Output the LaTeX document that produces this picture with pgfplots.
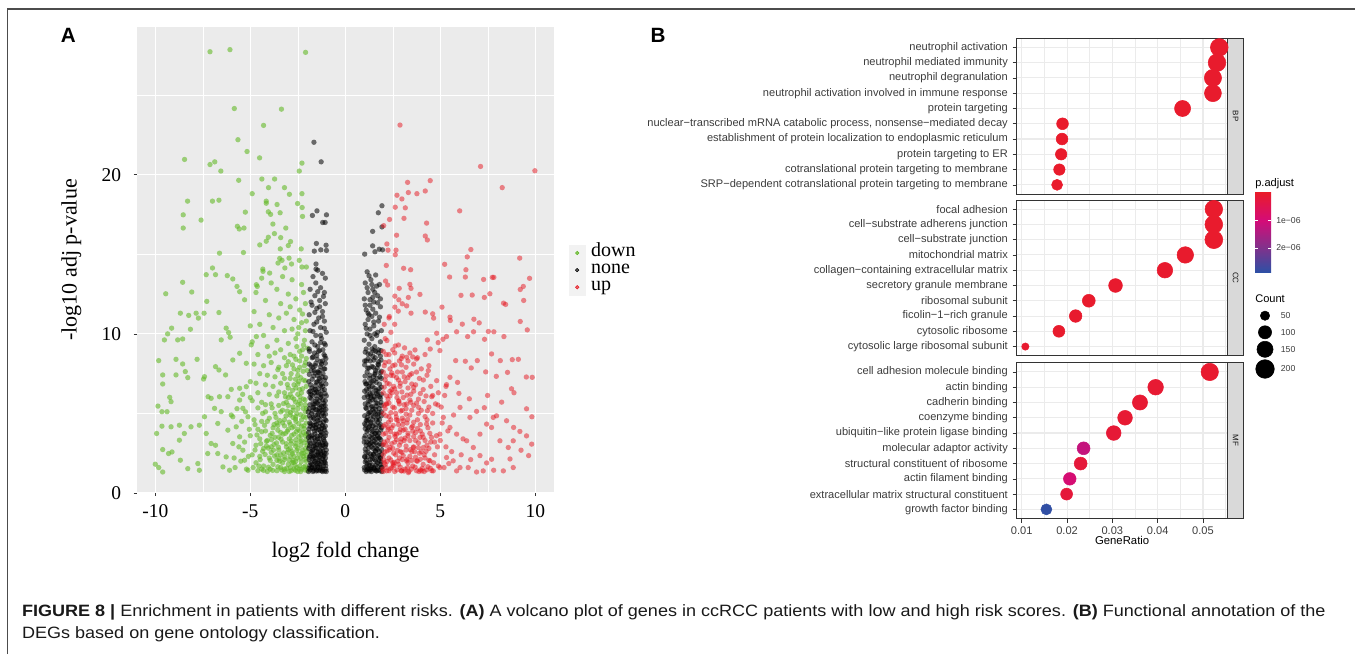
\documentclass[border=0pt]{standalone}
\usepackage{fontspec}
\setmainfont{Liberation Sans}
\newfontfamily\timesfont{Liberation Serif}
\newfontfamily\capfont[FakeStretch=1.1]{Liberation Sans}
\usepackage{pgfplots}
\pgfplotsset{compat=1.18}
\usepackage{pgfplotstable}

\definecolor{vgreen}{RGB}{100,185,40}
\definecolor{vred}{RGB}{230,20,30}
\definecolor{panelgray}{RGB}{235,235,235}
\definecolor{keygray}{RGB}{242,242,242}
\definecolor{grid92}{RGB}{235,235,235}
\definecolor{strip85}{RGB}{217,217,217}
\definecolor{gray20}{RGB}{51,51,51}
\definecolor{gray30}{RGB}{60,60,60}
\definecolor{cbred}{RGB}{233,27,43}
\definecolor{cbmag}{RGB}{212,12,120}
\definecolor{cbpur}{RGB}{128,50,140}
\definecolor{cbblue}{RGB}{45,80,165}
\pgfdeclareverticalshading{padj}{100bp}{color(0bp)=(cbblue); color(25bp)=(cbblue); color(40.35bp)=(cbpur); color(57.5bp)=(cbmag); color(75bp)=(cbred); color(100bp)=(cbred)}

\pgfplotstableread{
idx GR count p
0 0.0536 181 0.2
1 0.0531 180 0.3
2 0.0522 172 0.3
3 0.0522 166 0.3
4 0.0455 150 0.2
5 0.0190 80 0.1
6 0.0189 80 0.1
7 0.0187 76 0.1
8 0.0183 75 0.1
9 0.0178 70 0.1
}\tabBP
\pgfplotstableread{
idx GR count p
0 0.0524 180 0.2
1 0.0524 182 0.2
2 0.0524 185 0.2
3 0.0461 158 0.3
4 0.0416 141 0.4
5 0.0307 110 0.4
6 0.0248 96 0.3
7 0.0219 92 0.4
8 0.0182 82 0.3
9 0.0108 31 0.5
}\tabCC
\pgfplotstableread{
idx GR count p
0 0.0515 175 0.5
1 0.03955 141 1
2 0.0361 133 1
3 0.0328 125 1
4 0.0303 125 1.5
5 0.02365 96 12
6 0.0230 96 2
7 0.0206 92 9.5
8 0.0199 82 2
9 0.01544 70 28.5
}\tabMF
\pgfplotstableread{
y count
315.7 50
332.3 100
349.3 150
369.0 200
}\tabCount

\pgfplotsset{
 gopanel/.style={
  anchor=south west, scale only axis, width=158.4pt, height=116.8pt,
  xmin=0.00885, xmax=0.05547, ymin=-0.6, ymax=9.6, y dir=reverse,
  scaled x ticks=false,
  xtick={0.01,0.02,0.03,0.04,0.05}, minor xtick={0.015,0.025,0.035,0.045,0.055},
  ytick={0,1,2,3,4,5,6,7,8,9},
  xmajorgrids, xminorgrids, ymajorgrids,
  major grid style={grid92, line width=0.8pt},
  minor grid style={grid92, line width=0.4pt},
  axis line style={gray20, line width=0.6pt},
  tick align=outside, xtick pos=lower, ytick pos=left,
  major tick length=3pt, minor tick length=0pt,
  tick style={gray20, line width=0.5pt},
  yticklabel style={font=\fontsize{8.3}{9}\selectfont, text=gray30},
  xticklabel style={font=\fontsize{8.3}{9}\selectfont, text=gray30},
  clip=false,
  colormap={padjmap}{rgb255(0cm)=(233,27,43); rgb255(3.5cm)=(212,12,120); rgb255(6.93cm)=(128,50,140); rgb255(10cm)=(45,80,165)},
  point meta min=0, point meta max=28.9,
 },
 godots/.style={scatter, only marks, mark=*, point meta=explicit,
  scatter/use mapped color={draw=mapped color, fill=mapped color},
  visualization depends on={0.493*sqrt(\thisrow{count}) \as \msz},
  scatter/@pre marker code/.append style={/tikz/mark size=\msz pt}},
}

\begin{document}
\begin{tikzpicture}
\useasboundingbox (0,0) rectangle (1016.25pt,490.5pt);
\draw[line width=0.9pt, black!70] (5.5pt,0) -- (5.5pt,483.75pt) -- (1016.25pt,483.75pt);

\node[font=\bfseries\fontsize{15.5}{15.5}\selectfont] at (51.2pt,464.2pt) {A};
\node[font=\bfseries\fontsize{15.5}{15.5}\selectfont] at (493.5pt,464.2pt) {B};

% ---------------- Panel A: volcano ----------------
\begin{axis}[
 at={(102.5pt,120.75pt)}, anchor=south west, scale only axis,
 width=313.2pt, height=349.7pt,
 xmin=-10.98, xmax=11.0, ymin=0, ymax=29.3,
 axis background/.style={fill=panelgray},
 axis line style={draw=none},
 xtick={-10,-5,0,5,10}, xticklabels={-10,-5,0,5,10},
 ytick={0,10,20}, yticklabels={0,10,20},
 minor xtick={-7.5,-2.5,2.5,7.5}, minor ytick={5,15,25},
 xmajorgrids, ymajorgrids, xminorgrids, yminorgrids,
 major grid style={white, line width=0.8pt},
 minor grid style={white, line width=0.4pt},
 tick align=outside, xtick pos=lower, ytick pos=left,
 major tick length=2.2pt, minor tick length=0pt,
 tick style={gray20, line width=0.5pt},
 ticklabel style={font=\timesfont\fontsize{14.6}{14.6}\selectfont, text=black},
 xticklabel style={yshift=-3pt},
 yticklabel style={xshift=-6pt},
 xlabel={log2 fold change}, ylabel={-log10 adj p-value},
 label style={font=\timesfont\fontsize{16.5}{16.5}\selectfont},
 xlabel style={at={([yshift=-44.5pt]axis description cs:0.5,0)}, anchor=center},
 ylabel style={at={([xshift=-49pt]axis description cs:0,0.5)}, anchor=center},
 legend style={at={(axis description cs:1,0.478)}, anchor=west, xshift=11pt,
   draw=none, fill=none, inner sep=0pt, outer sep=0pt, row sep=0pt,
   font=\timesfont\fontsize{15}{15}\selectfont,
   nodes={inner sep=0pt, text height=8.5pt, text depth=3.9pt},
   /tikz/every odd column/.append style={column sep=4.2pt}},
 legend cell align=left,
]
\addplot[only marks, mark=*, mark size=2.0pt, color=vgreen, mark options={draw opacity=0, fill opacity=0.6},
 legend image code/.code={\fill[keygray] (0pt,-6.2pt) rectangle (12pt,6.2pt); \fill[fill opacity=0.7] (6pt,0pt) circle (1.3pt);}]
coordinates {
(-7.12,27.73)(-6.07,27.86)(-2.09,27.69)(-5.84,24.16)(-3.36,24.12)(-4.30,23.10)(-5.65,22.2)(-5.17,21.46)(-4.51,21.06)(-8.46,20.96)
(-7.12,20.64)(-6.87,20.81)(-6.55,20.23)(-2.28,20.73)(-2.42,20.23)(-5.61,19.65)(-4.39,19.73)(-3.72,19.73)(-4.04,19.19)(-3.20,19.19)
(-4.90,18.81)(-2.94,18.77)(-2.28,18.81)(-8.30,18.34)(-6.99,18.34)(-6.65,18.40)(-4.16,18.34)(-4.16,18.21)(-3.59,18.13)(-2.51,18.19)
(-2.27,17.94)(-8.53,17.48)(-7.59,17.15)(-8.53,16.65)(-5.26,17.65)(-4.05,17.67)(-3.93,17.51)(-3.43,17.61)(-2.25,17.38)(-3.81,16.90)
(-3.13,16.65)(-5.68,16.76)(-5.58,16.59)(-5.33,16.65)(-3.73,16.30)(-4.05,16.07)(-3.40,16.05)(-4.16,15.82)(-2.88,15.80)(-4.50,15.59)
(-3.00,15.55)(-6.62,15.07)(-5.36,15.11)(-3.42,15.34)(-2.32,15.34)(-3.45,14.74)(-2.96,14.76)(-2.42,14.62)(-3.33,14.62)(-2.83,14.39)
(-6.99,14.14)(-2.28,14.20)(-2.05,14.20)(-3.18,14.14)(-4.34,14.07)
(-8.56,13.24)(-9.45,12.52)(-8.08,12.63)(-7.29,12.04)(-7.32,13.72)(-6.83,13.72)(-6.21,13.66)(-5.92,13.45)(-5.70,12.98)(-5.56,12.65)
(-5.30,12.14)(-4.68,13.09)(-4.63,12.98)(-4.33,13.93)(-3.98,13.82)(-3.54,14.45)(-8.68,11.30)(-8.24,11.16)(-7.85,11.30)(-7.43,11.30)
(-7.73,10.99)(-6.65,11.34)(-9.14,10.36)(-9.35,10.0)(-9.52,9.62)(-8.82,9.62)(-8.56,9.68)(-8.15,10.29)(-6.27,10.36)(-6.14,10.08)
(-6.06,9.79)(-6.53,9.62)(-9.82,8.32)(-9.61,7.42)(-9.61,6.85)(-9.86,5.46)(-9.65,5.11)(-9.24,6.01)(-9.17,5.74)(-8.91,8.40)
(-8.56,8.11)(-8.42,7.63)(-8.29,7.25)(-8.91,7.42)(-7.80,8.40)(-7.41,7.31)(-7.46,7.16)(-7.06,5.95)(-6.62,6.05)(-7.22,6.05)
(-6.83,7.94)(-6.65,7.73)(-6.30,7.42)(-6.00,6.51)(-5.56,6.58)(-5.21,6.68)(-9.38,5.11)(-9.65,4.20)(-9.93,3.74)(-9.17,4.16)
(-8.73,4.26)(-8.47,3.74)(-8.12,4.16)(-7.68,4.26)(-7.41,4.79)(-8.73,3.32)(-9.61,2.73)(-9.30,2.48)(-9.12,2.58)(-10.0,1.81)
(-9.82,1.60)(-9.61,1.32)(-8.68,2.06)(-8.29,1.53)(-7.76,1.85)(-7.68,1.43)(-7.24,2.48)(-7.06,3.11)(-6.83,3.00)(-6.71,2.48)
(-6.44,1.64)(-6.09,1.43)(-6.27,2.27)(-6.18,3.95)(-5.74,4.16)(-5.92,4.79)(-6.53,5.11)(-6.88,5.32)(-5.39,5.32)(-5.56,3.53)
(-5.39,2.69)(-5.30,2.06)(-5.12,1.43)(-7.32,3.74)(-5.92,3.11)(-6.71,4.37)(-5.12,4.79)(-5.56,5.84)(-6.18,6.05)(-5.92,8.36)
(-5.21,8.15)(-5.56,8.78)(-4.95,9.31)(-4.68,9.83)
(-4.4,13.5)(-3.9,13.2)(-3.3,13.6)(-2.8,13.4)(-2.3,13.1)(-4.7,12.6)(-3.6,12.8)(-3.0,12.5)(-2.6,12.2)(-2.2,12.6)
(-4.2,12.1)(-3.4,11.9)(-2.9,11.7)(-2.4,11.5)(-2.1,11.9)(-4.8,11.4)(-4.0,11.2)(-3.5,11.0)(-3.1,11.3)(-2.7,10.9)
(-2.3,10.7)(-5.0,10.5)(-4.5,10.6)(-3.8,10.4)(-3.2,10.2)(-2.8,10.3)(-2.5,10.0)(-2.1,10.2)(-4.3,9.9)(-3.6,9.6)
(-3.0,9.4)(-2.6,9.7)(-2.2,9.3)(-4.9,9.5)(-4.1,9.2)(-3.4,9.0)(-2.4,8.9)(-2.0,9.1)
(-4.6,8.7)(-4.0,8.6)(-3.7,8.8)(-3.2,8.5)(-2.9,8.7)(-2.6,8.4)(-2.3,8.6)(-2.1,8.2)(-4.8,8.1)(-4.3,8.0)
(-3.9,8.2)(-3.5,7.9)(-3.1,8.0)(-2.7,7.8)(-2.4,7.9)(-2.0,7.7)(-4.5,7.5)(-4.1,7.4)(-3.7,7.3)(-3.3,7.5)
(-2.9,7.2)(-2.5,7.4)(-2.2,7.1)(-5.0,7.0)(-4.7,6.9)(-4.2,6.8)(-3.8,6.7)(-3.4,6.9)(-3.0,6.6)(-2.7,6.8)
(-2.4,6.5)(-2.05,6.7)(-4.6,6.3)(-4.0,6.2)(-3.6,6.1)(-3.2,6.3)(-2.8,6.0)(-2.5,6.2)(-2.2,5.9)(-4.9,5.8)
(-4.4,5.7)(-3.9,5.6)(-3.5,5.5)(-3.1,5.7)(-2.75,5.4)(-2.35,5.6)(-2.05,5.3)(-4.2,5.1)(-3.7,5.0)(-3.3,5.2)
(-2.9,4.9)(-2.55,5.0)(-2.2,4.8)
(-4.8,4.6)(-4.4,4.5)(-4.0,4.7)(-3.6,4.4)(-3.2,4.6)(-2.9,4.3)(-2.6,4.5)(-2.3,4.2)(-2.05,4.4)(-4.6,4.0)
(-4.2,3.9)(-3.8,4.1)(-3.4,3.8)(-3.0,4.0)(-2.7,3.7)(-2.4,3.9)(-2.1,3.6)(-5.0,3.6)(-4.5,3.4)(-4.1,3.3)
(-3.7,3.5)(-3.3,3.2)(-2.95,3.4)(-2.6,3.1)(-2.3,3.3)(-2.0,3.0)(-4.7,3.0)(-4.3,2.8)(-3.9,2.9)(-3.5,2.7)
(-3.1,2.9)(-2.8,2.6)(-2.5,2.8)(-2.2,2.5)(-4.9,2.4)(-4.5,2.3)(-4.0,2.2)(-3.6,2.4)(-3.2,2.1)(-2.9,2.3)
(-2.6,2.0)(-2.35,2.2)(-2.05,2.0)(-4.7,1.9)(-4.3,1.7)(-3.8,1.8)(-3.4,1.6)(-3.0,1.8)(-2.7,1.5)(-2.4,1.7)
(-2.15,1.45)(-4.6,1.4)(-4.1,1.35)(-3.6,1.4)(-3.2,1.35)(-2.85,1.4)(-2.5,1.35)(-2.0,1.4)(-5.2,1.5)(-5.5,2.0)
(-5.8,1.6)(-4.4,1.5)(-3.95,1.5)(-3.45,2.0)(-2.75,2.05)(-2.25,2.7)(-3.75,3.05)(-2.45,3.55)(-3.15,3.75)(-2.15,4.05)
(-3.55,4.25)(-2.75,4.75)(-4.25,4.25)(-2.5,5.3)(-3.85,5.35)(-2.1,5.55)(-3.0,6.0)(-2.45,7.0)(-3.55,7.75)(-2.15,8.0)
(-2.1,1.7)(-2.3,1.5)(-2.55,1.6)(-2.8,1.9)(-2.2,2.3)(-2.45,2.45)(-2.7,2.3)(-2.9,2.8)(-2.1,2.8)(-2.35,3.0)
(-2.6,3.35)(-2.85,3.1)(-2.2,3.8)(-2.5,4.0)(-2.8,4.1)(-2.3,4.6)(-2.6,4.8)(-2.1,5.1)(-2.4,5.8)(-2.7,5.9)
(-2.3,6.3)(-2.6,6.6)(-3.05,5.15)(-3.3,4.4)(-3.5,3.5)(-3.05,2.55)(-3.3,1.9)(-3.6,2.05)(-3.9,2.55)(-4.15,2.95)
(-3.85,3.75)(-3.4,2.4)(-3.2,1.5)(-2.95,1.35)(-2.35,1.35)(-2.65,1.75)(-2.05,2.35)(-2.05,3.35)
(-2.02,1.55)(-2.18,1.62)(-2.42,1.5)(-2.63,1.42)(-2.88,1.6)(-3.08,1.55)(-3.35,1.45)(-3.55,1.65)(-3.82,1.42)(-4.05,1.62)
(-4.3,1.42)(-4.55,1.7)(-2.12,2.12)(-2.32,1.95)(-2.52,2.18)(-2.72,1.92)(-2.95,2.08)(-3.18,2.25)(-3.48,2.15)(-3.72,2.32)
(-3.95,2.05)(-4.22,2.42)(-4.48,2.1)(-2.02,2.62)(-2.28,2.5)(-2.55,2.68)(-2.78,2.48)(-3.0,2.72)(-3.25,2.52)(-3.52,2.88)
(-3.78,2.7)(-4.05,2.82)(-4.35,2.62)(-2.15,3.15)(-2.38,3.25)(-2.62,2.95)(-2.85,3.28)(-3.1,3.1)(-3.38,3.38)(-3.62,3.15)
(-3.88,3.35)(-4.15,3.25)(-2.05,3.72)(-2.32,3.62)(-2.58,3.85)(-2.82,3.62)(-3.05,3.88)(-3.28,3.7)(-3.55,3.95)(-3.95,3.62)
(-2.18,4.22)(-2.45,4.35)(-2.7,4.18)(-2.95,4.45)(-3.2,4.22)(-3.45,4.55)(-3.75,4.3)(-4.1,4.5)(-2.08,4.75)(-2.35,4.92)
(-2.62,4.65)(-2.88,5.05)(-3.12,4.85)(-3.4,5.1)(-3.65,4.75)(-2.22,5.32)(-2.48,5.55)(-2.75,5.2)(-3.0,5.5)(-3.25,5.62)
(-2.12,5.85)(-2.38,6.05)(-2.62,5.72)(-2.9,6.2)(-3.15,6.05)(-3.5,6.35)(-2.25,6.55)(-2.5,6.85)(-2.78,6.45)(-3.05,6.82)
(-2.1,7.05)(-2.35,7.25)(-2.62,7.15)(-2.85,7.5)(-3.2,7.2)(-2.22,7.65)(-2.5,7.7)(-2.78,8.05)(-2.05,8.45)(-2.4,8.3)
(-2.7,8.6)(-3.0,8.25)(-2.25,9.0)(-2.55,9.2)(-2.15,9.6)(-2.45,10.4)(-2.05,10.8)(-2.25,11.25)
(-4.45,3.1)(-4.65,3.65)(-4.4,3.85)(-4.75,4.3)(-4.35,5.0)(-4.6,5.35)(-4.2,5.55)(-4.75,2.7)(-4.85,1.6)(-5.1,2.3)
(-5.3,3.2)(-5.05,4.0)(-5.25,5.1)(-5.45,4.5)(-5.0,6.0)(-5.4,6.2)(-5.6,2.9)(-5.85,2.2)(-5.7,5.3)(-6.0,4.9)
};
\addplot[only marks, mark=*, mark size=2.0pt, color=black, mark options={draw opacity=0, fill opacity=0.55},
 legend image code/.code={\fill[keygray] (0pt,-6.2pt) rectangle (12pt,6.2pt); \fill[fill opacity=0.6] (6pt,0pt) circle (1.3pt);}]
coordinates {
(-1.65,22.04)(-1.27,20.81)(-1.49,17.73)(-1.73,17.44)(-0.99,17.48)(-1.19,17.0)(-1.06,17.0)(-1.52,15.68)(-1.01,15.57)(-1.63,15.20)
(-1.29,15.28)(-0.99,15.24)(-1.54,14.39)(-1.54,14.07)
(-1.45,14.0)(-1.2,13.8)(-1.7,13.6)(-1.05,13.5)(-1.55,13.2)(-1.3,12.9)(-1.85,12.8)(-1.1,12.6)(-1.6,12.4)(-1.35,12.1)
(-1.05,11.9)(-1.75,11.8)(-1.5,11.6)(-1.2,11.4)(-1.9,11.2)(-1.4,11.0)(-1.1,10.8)(-1.65,10.6)(-1.3,10.4)(-1.85,10.2)
(-1.0,10.1)(-1.55,9.9)(-1.25,9.7)(-1.75,9.5)(-1.1,9.4)(-1.45,9.2)
(-1.3,9.9)(-1.7,10.15)(-1.1,10.35)(-1.5,10.75)(-1.2,11.1)(-1.6,11.35)(-1.35,11.7)(-1.8,12.0)(-1.15,12.35)(-1.45,12.65)
(-1.88,8.9)(-1.62,8.8)(-1.35,8.95)(-1.12,8.7)(-1.74,8.5)(-1.48,8.4)(-1.2,8.3)(-1.02,8.45)(-1.9,8.1)(-1.58,8.0)
(-1.3,7.95)(-1.08,7.8)(-1.8,7.7)(-1.44,7.6)(-1.17,7.5)(-1.66,7.35)(-1.36,7.2)(-1.04,7.25)(-1.92,7.0)(-1.53,6.95)
(-1.25,6.85)(-1.76,6.6)(-1.41,6.55)(-1.1,6.5)(-1.63,6.3)(-1.29,6.2)(-1.0,6.1)(-1.86,6.0)(-1.5,5.9)(-1.18,5.85)
(-1.7,5.6)(-1.38,5.55)(-1.06,5.5)(-1.9,5.3)(-1.56,5.25)(-1.24,5.2)(-1.78,5.0)(-1.45,4.9)(-1.13,4.85)(-1.65,4.65)
(-1.32,4.6)(-1.01,4.55)(-1.87,4.4)(-1.52,4.3)(-1.2,4.25)(-1.72,4.05)(-1.4,4.0)(-1.08,3.95)(-1.93,3.8)(-1.6,3.7)
(-1.27,3.65)(-1.76,3.45)(-1.46,3.4)(-1.14,3.35)(-1.02,3.1)(-1.66,3.15)(-1.34,3.05)(-1.88,2.95)(-1.55,2.85)(-1.22,2.8)
(-1.79,2.6)(-1.43,2.55)(-1.1,2.5)(-1.69,2.3)(-1.37,2.25)(-1.04,2.2)(-1.9,2.1)(-1.58,2.0)(-1.26,1.95)(-1.76,1.8)
(-1.47,1.75)(-1.15,1.7)(-1.02,1.5)(-1.63,1.55)(-1.33,1.5)(-1.85,1.45)(-1.52,1.38)(-1.2,1.35)(-1.7,1.35)(-1.4,1.4)
(-1.08,1.38)(-1.93,1.35)
(-1.5,8.65)(-1.25,8.1)(-1.7,7.9)(-1.1,7.1)(-1.47,7.0)(-1.85,6.4)(-1.22,6.45)(-1.58,5.75)(-1.05,5.8)(-1.4,5.05)
(-1.82,4.7)(-1.15,4.45)(-1.55,4.1)(-1.3,3.85)(-1.85,3.55)(-1.05,3.6)(-1.62,3.45)(-1.4,3.2)(-1.18,3.0)(-1.7,2.75)
(-1.32,2.65)(-1.0,2.7)(-1.5,2.4)(-1.85,2.35)(-1.2,2.15)(-1.62,1.95)(-1.38,1.85)(-1.05,1.9)(-1.8,1.6)(-1.27,1.6)
(-1.58,1.65)(-1.45,2.1)(-1.12,2.35)(-1.72,2.15)(-1.3,2.95)(-1.6,3.0)(-1.9,3.25)(-1.25,4.05)(-1.45,4.55)(-1.7,4.25)
(-1.05,4.2)(-1.35,5.35)(-1.65,5.4)(-1.12,5.2)(-1.5,6.35)(-1.3,6.75)(-1.75,6.15)(-1.6,7.55)(-1.35,7.7)(-1.05,8.15)
(-1.91,1.55)(-1.67,1.42)(-1.44,1.6)(-1.19,1.48)(-1.03,1.72)(-1.81,1.9)(-1.55,1.85)(-1.32,1.78)(-1.09,2.02)(-1.88,2.25)
(-1.64,2.22)(-1.41,2.38)(-1.17,2.28)(-1.01,2.48)(-1.78,2.48)(-1.53,2.62)(-1.28,2.52)(-1.06,2.9)(-1.92,2.8)(-1.68,2.92)
(-1.45,2.78)(-1.22,3.15)(-1.84,3.12)(-1.58,3.28)(-1.35,3.4)(-1.1,3.25)(-1.75,3.62)(-1.49,3.58)(-1.24,3.8)(-1.02,3.78)
(-1.91,4.02)(-1.63,3.9)(-1.37,4.18)(-1.13,4.1)(-1.8,4.35)(-1.55,4.48)(-1.3,4.38)(-1.06,4.62)(-1.89,4.85)(-1.68,4.75)
(-1.42,4.75)(-1.18,5.02)(-1.73,5.15)(-1.48,5.22)(-1.26,5.45)(-1.02,5.25)(-1.86,5.55)(-1.61,5.6)(-1.37,5.8)(-1.14,5.65)
(-1.78,5.9)(-1.53,6.1)(-1.29,6.0)(-1.06,6.25)(-1.91,6.35)(-1.66,6.5)(-1.42,6.3)(-1.19,6.7)(-1.82,6.8)(-1.57,6.75)
(-1.34,7.05)(-1.02,6.85)(-1.74,7.15)(-1.45,7.35)(-1.22,7.3)(-1.89,7.45)(-1.63,7.7)(-1.38,7.55)(-1.12,7.8)(-1.8,8.0)
(-1.55,8.15)(-1.3,8.25)(-1.07,8.6)(-1.7,8.55)(-1.42,8.9)(-1.18,9.0)(-1.9,9.05)(-1.6,9.3)(-1.3,9.45)(-1.05,9.3)
(-1.5,1.45)(-1.25,1.4)(-1.75,1.6)(-1.0,1.35)(-1.86,1.75)(-1.36,2.05)(-1.12,1.92)(-1.6,2.35)(-1.27,2.4)(-1.72,2.65)
(-1.48,3.05)(-1.17,2.62)(-1.03,3.02)(-1.94,3.5)(-1.32,3.6)(-1.6,4.25)(-1.14,3.5)(-1.5,3.95)(-1.85,4.2)(-1.25,4.85)
(-1.58,4.9)(-1.04,4.95)(-1.95,5.1)(-1.35,5.15)(-1.7,5.35)(-1.15,5.45)(-1.48,5.65)(-1.82,6.2)(-1.25,6.1)(-1.57,6.5)
(1.93,18.05)(1.74,17.61)(1.44,16.44)(1.93,16.72)(1.44,15.53)(1.56,15.16)(1.79,15.32)(1.96,15.28)(1.02,15.01)
(1.15,13.9)(1.6,13.7)(1.35,13.4)(1.05,13.2)(1.8,13.1)(1.45,12.8)(1.2,12.6)(1.7,12.4)(1.0,12.2)(1.5,12.0)
(1.3,11.8)(1.85,11.7)(1.1,11.5)(1.6,11.3)(1.4,11.1)(1.2,10.9)(1.75,10.8)(1.05,10.6)(1.5,10.5)(1.3,10.3)
(1.9,10.2)(1.15,10.0)(1.65,9.9)(1.4,9.7)(1.0,9.6)(1.85,9.5)(1.25,9.35)(1.55,9.2)(1.1,9.05)(1.75,9.0)
(1.45,12.3)(1.65,13.0)(1.25,11.2)(1.55,10.0)
(1.3,9.9)(1.7,10.1)(1.1,10.35)(1.5,10.75)(1.8,11.05)(1.2,11.3)(1.45,11.55)(1.05,11.8)(1.7,11.95)(1.3,12.15)
(1.55,12.6)(1.15,12.9)(1.85,12.2)(1.4,13.1)(1.25,13.65)
(1.05,8.85)(1.33,8.75)(1.6,8.9)(1.85,8.6)(1.2,8.45)(1.5,8.35)(1.76,8.25)(1.02,8.05)(1.4,7.95)(1.68,7.85)
(1.9,7.65)(1.15,7.6)(1.55,7.45)(1.82,7.3)(1.28,7.2)(1.04,7.0)(1.63,6.95)(1.42,6.7)(1.9,6.65)(1.12,6.5)
(1.72,6.4)(1.3,6.25)(1.52,6.05)(1.0,6.0)(1.85,5.95)(1.22,5.8)(1.62,5.65)(1.42,5.45)(1.08,5.35)(1.78,5.3)
(1.32,5.1)(1.58,4.95)(1.9,4.85)(1.15,4.75)(1.45,4.6)(1.72,4.45)(1.02,4.35)(1.28,4.2)(1.6,4.1)(1.87,3.95)
(1.14,3.85)(1.4,3.7)(1.7,3.6)(1.0,3.45)(1.25,3.35)(1.52,3.25)(1.82,3.1)(1.1,3.0)(1.38,2.9)(1.64,2.8)
(1.92,2.7)(1.2,2.55)(1.48,2.45)(1.75,2.35)(1.03,2.25)(1.32,2.1)(1.6,2.0)(1.88,1.95)(1.15,1.85)(1.42,1.75)
(1.7,1.65)(1.0,1.6)(1.27,1.5)(1.55,1.45)(1.82,1.4)(1.1,1.35)(1.38,1.35)(1.65,1.38)(1.92,1.35)
(1.45,8.6)(1.75,8.05)(1.25,7.85)(1.9,7.2)(1.5,7.05)(1.08,6.85)(1.78,6.55)(1.35,6.0)(1.9,5.5)(1.6,5.25)
(1.2,5.0)(1.85,4.3)(1.35,4.45)(1.05,4.05)(1.55,3.75)(1.8,3.45)(1.3,3.1)(1.05,2.75)(1.6,2.6)(1.85,2.2)
(1.4,2.3)(1.1,2.05)(1.7,1.9)(1.25,1.75)(1.5,1.6)(1.9,1.6)(1.2,1.55)(1.62,3.4)(1.4,4.0)(1.15,4.55)
(1.7,4.95)(1.45,5.85)(1.15,6.2)(1.65,6.25)(1.3,6.9)(1.6,7.7)(1.1,8.3)(1.88,8.95)(1.4,9.05)
(1.02,1.45)(1.26,1.38)(1.51,1.52)(1.74,1.45)(1.93,1.62)(1.13,1.68)(1.37,1.62)(1.61,1.75)(1.85,1.8)(1.05,1.95)
(1.3,1.9)(1.55,2.1)(1.79,2.05)(1.18,2.28)(1.43,2.15)(1.68,2.3)(1.91,2.42)(1.08,2.55)(1.33,2.45)(1.57,2.65)
(1.8,2.6)(1.23,2.82)(1.47,2.8)(1.72,3.0)(1.93,3.0)(1.13,3.2)(1.38,3.18)(1.62,3.15)(1.87,3.35)(1.05,3.6)
(1.28,3.55)(1.52,3.5)(1.77,3.75)(1.18,3.95)(1.43,3.88)(1.67,3.9)(1.91,4.1)(1.08,4.25)(1.33,4.35)(1.58,4.3)
(1.8,4.6)(1.22,4.6)(1.49,4.8)(1.73,4.75)(1.02,4.85)(1.27,5.05)(1.52,5.1)(1.78,5.05)(1.12,5.3)(1.38,5.4)
(1.64,5.45)(1.88,5.7)(1.05,5.6)(1.3,5.75)(1.57,5.9)(1.8,6.05)(1.19,6.05)(1.43,6.3)(1.7,6.15)(1.02,6.4)
(1.26,6.55)(1.53,6.6)(1.8,6.85)(1.12,6.85)(1.4,7.0)(1.67,7.2)(1.04,7.35)(1.29,7.4)(1.58,7.55)(1.85,7.55)
(1.18,7.85)(1.47,7.9)(1.72,8.1)(1.02,8.3)(1.32,8.3)(1.58,8.5)(1.88,8.35)(1.2,8.75)(1.5,8.95)(1.75,8.8)
(1.35,1.48)(1.62,1.4)(1.15,1.45)(1.85,2.2)(1.48,2.4)(1.02,2.3)(1.7,2.75)(1.25,3.05)(1.5,3.05)(1.0,3.2)
(1.75,3.45)(1.4,3.45)(1.6,3.75)(1.22,4.1)(1.8,4.2)(1.45,4.2)(1.1,4.55)(1.65,4.6)(1.35,4.85)(1.9,5.1)
(1.45,5.25)(1.2,5.55)(1.7,5.65)(1.35,6.1)(1.62,6.45)(1.9,6.2)(1.25,6.7)(1.48,7.3)
};
\addplot[only marks, mark=*, mark size=2.0pt, color=vred, mark options={draw opacity=0, fill opacity=0.5},
 legend image code/.code={\fill[keygray] (0pt,-6.2pt) rectangle (12pt,6.2pt); \fill[fill opacity=0.6] (6pt,0pt) circle (1.3pt);}]
coordinates {
(2.88,23.12)(7.12,20.52)(9.98,20.25)(4.47,19.63)(3.28,19.52)(8.26,19.19)(3.32,18.88)(3.77,18.81)(4.21,18.98)(2.72,18.71)
(2.98,18.48)(2.63,17.96)(3.16,17.92)(6.02,17.73)(2.33,17.19)(3.09,17.26)(4.28,16.96)(2.02,16.80)(2.70,16.20)(4.21,16.15)
(4.32,15.90)(2.19,15.65)(2.25,15.26)(2.67,15.26)(2.63,14.97)(6.61,15.30)(6.42,14.84)(9.18,14.76)(2.16,14.30)(3.07,14.12)
(3.44,14.03)(5.23,14.37)(6.35,14.03)
(7.74,13.55)(7.82,13.55)(7.28,13.42)(9.70,13.49)(9.37,12.98)(9.21,12.79)(9.58,10.25)(9.39,12.10)
(2.12,13.32)(2.23,13.07)(2.84,12.86)(3.40,13.11)(3.46,12.86)(3.93,12.48)(5.49,13.57)(6.32,13.57)(6.09,12.42)(6.68,12.44)
(7.61,12.52)(7.32,12.29)(8.33,11.93)(9.21,10.78)(8.44,11.85)(2.61,12.37)(2.82,12.14)(3.32,12.29)(3.00,11.89)(3.23,11.76)
(2.61,11.68)(2.32,11.09)(2.79,11.43)(3.46,11.30)(4.21,11.37)(4.60,11.26)(4.65,10.99)(5.09,11.68)(5.51,11.05)(5.53,10.84)
(6.16,10.61)(6.77,10.92)(7.05,10.69)(7.53,10.15)(7.82,10.13)(8.35,9.83)(8.79,8.38)(9.11,8.40)(5.86,10.13)(6.44,9.83)
(6.75,10.13)(7.33,9.66)
(2.19,9.58)(2.63,9.24)(3.12,9.12)(3.67,8.99)(4.32,9.62)(4.81,10.04)(4.89,9.45)(5.14,9.66)(5.33,9.83)(4.47,9.05)
(4.98,8.95)(5.81,8.32)(6.32,8.28)(6.63,7.86)(6.95,8.32)(7.39,7.61)(7.95,7.33)(8.54,7.58)(9.53,7.29)(9.84,7.27)
(7.70,8.74)(8.16,8.32)(8.75,6.55)(8.88,6.30)(9.54,5.29)(9.82,4.79)(8.23,5.71)(7.49,6.13)(7.32,5.36)(6.91,5.13)
(6.53,5.92)(5.91,6.95)(5.98,6.26)(5.33,6.81)(5.23,6.13)(4.88,5.53)(4.60,6.13)(4.11,7.10)(3.60,6.64)(3.40,7.42)
(2.96,8.05)(2.53,7.37)(2.35,6.39)(2.81,5.80)(3.23,5.59)(3.86,5.38)(4.32,5.17)(2.18,5.59)(4.81,7.06)(4.37,7.69)
(3.75,8.42)(3.23,8.53)(5.51,7.27)(6.04,5.38)(6.56,4.75)(7.79,4.75)(7.44,4.33)(7.96,4.85)(8.49,4.54)(8.86,4.12)
(9.19,3.87)(9.54,3.59)(9.81,3.07)(9.65,2.35)(9.25,2.69)(8.67,2.14)(8.32,1.39)(7.81,1.43)(7.44,1.89)(7.70,2.12)
(7.09,2.35)(6.74,2.86)(6.39,3.28)(5.86,3.70)(5.51,4.12)(5.16,4.75)(4.98,3.70)(5.33,2.23)(5.68,2.02)(6.04,1.60)
(6.91,1.32)(6.47,1.60)(4.98,1.60)(4.63,1.39)(4.46,2.02)(4.11,2.86)(3.93,3.49)(3.58,2.86)(3.23,2.02)(2.96,1.39)
(2.53,1.81)(2.35,2.86)(2.70,3.70)(2.26,4.12)(3.05,4.54)(3.49,4.12)(4.28,4.33)(4.54,3.49)(3.75,2.02)(4.02,1.39)
(3.32,1.28)(2.18,1.39)(5.86,1.39)(7.26,1.39)(8.84,1.60)(8.58,2.86)(8.14,3.28)(7.09,3.70)(8.84,3.28)(7.70,4.12)
(2.0,8.9)(2.3,8.7)(2.6,8.8)(3.0,8.6)(3.4,8.8)(3.8,8.5)(4.2,8.7)(2.1,8.2)(2.5,8.0)(2.85,8.3)
(3.2,7.9)(3.6,8.1)(4.0,7.8)(4.4,8.0)(2.0,7.6)(2.4,7.4)(2.75,7.6)(3.1,7.3)(3.5,7.5)(3.9,7.2)
(4.3,7.4)(2.2,6.9)(2.55,6.7)(2.9,6.9)(3.3,6.6)(3.7,6.8)(4.1,6.5)(4.5,6.7)(2.0,6.3)(2.35,6.1)
(2.7,6.3)(3.05,6.0)(3.45,6.2)(3.85,5.9)(4.25,6.1)(2.15,5.6)(2.5,5.4)(2.85,5.6)(3.2,5.3)(3.6,5.5)
(4.0,5.2)(4.4,5.4)(2.0,5.0)(2.3,4.8)(2.65,5.0)(3.0,4.7)(3.4,4.9)(3.8,4.6)(4.2,4.8)(2.1,4.3)
(2.45,4.1)(2.8,4.3)(3.15,4.0)(3.55,4.2)(3.95,3.9)(4.35,4.1)(2.0,3.7)(2.3,3.5)(2.6,3.7)(2.95,3.4)
(3.3,3.6)(3.7,3.3)(4.1,3.5)(4.5,3.2)(2.15,3.0)(2.5,2.8)(2.85,3.0)(3.2,2.7)(3.6,2.9)(4.0,2.6)
(4.4,2.8)(2.0,2.4)(2.3,2.2)(2.65,2.4)(3.0,2.1)(3.4,2.3)(3.8,2.0)(4.2,2.2)(2.1,1.8)(2.45,1.6)
(2.8,1.8)(3.15,1.5)(3.55,1.7)(3.95,1.45)(4.35,1.65)(2.0,1.35)(2.3,1.4)(2.6,1.35)(2.95,1.4)(3.35,1.35)
(3.75,1.4)(4.15,1.35)(4.55,1.4)(2.05,1.9)(2.2,2.65)(2.05,3.2)(2.25,4.0)(2.4,4.6)(2.1,5.3)(2.25,5.9)
(2.45,6.5)(2.1,7.1)(2.6,3.2)(2.75,2.0)(2.5,1.9)(2.9,2.6)(3.1,3.3)(2.7,4.6)(3.0,5.2)(2.9,4.0)
(3.3,1.9)(3.5,2.6)(3.25,4.4)(3.45,5.7)(3.7,3.8)(3.9,2.5)(4.1,1.8)(4.3,3.0)(2.35,7.8)(2.8,7.1)
(3.3,8.3)(4.6,5.0)(4.7,2.4)(4.8,3.6)(4.9,1.7)(5.1,4.4)(5.3,2.9)
(1.97,1.5)(2.15,1.6)(2.38,1.52)(2.55,1.7)(2.72,1.45)(2.9,1.62)(3.1,1.38)(3.28,1.6)(3.48,1.5)(3.68,1.62)
(3.88,1.35)(4.05,1.55)(4.28,1.45)(4.48,1.55)(2.02,2.1)(2.2,1.98)(2.4,2.08)(2.58,1.92)(2.85,2.2)(3.05,2.35)
(3.25,2.12)(3.5,2.05)(3.7,2.25)(3.95,2.12)(4.15,2.4)(4.4,2.05)(2.08,2.58)(2.32,2.72)(2.55,2.5)(2.75,2.68)
(2.98,2.55)(3.2,2.95)(3.42,2.72)(3.65,2.6)(3.85,2.85)(4.25,2.62)(2.0,3.05)(2.22,3.28)(2.45,3.1)(2.7,3.35)
(2.92,3.2)(3.15,3.45)(3.4,3.3)(3.6,3.55)(3.85,3.15)(4.2,3.3)(2.12,3.75)(2.38,3.85)(2.62,3.55)(2.85,3.8)
(3.05,3.95)(3.3,3.75)(3.55,3.88)(3.8,4.05)(4.05,3.7)(2.02,4.2)(2.28,4.45)(2.52,4.25)(2.78,4.55)(3.02,4.3)
(3.28,4.62)(3.6,4.45)(3.95,4.3)(2.15,4.85)(2.4,5.05)(2.68,4.78)(2.92,5.15)(3.2,4.95)(3.5,5.2)(3.85,5.0)
(2.05,5.5)(2.3,5.65)(2.58,5.35)(2.82,5.75)(3.1,5.55)(3.4,5.85)(3.75,5.65)(4.15,5.75)(2.18,6.1)(2.45,6.3)
(2.72,6.0)(2.98,6.35)(3.25,6.15)(3.6,6.4)(3.95,6.25)(2.05,6.65)(2.32,6.85)(2.6,6.55)(2.88,6.7)(3.15,7.0)
(3.5,6.85)(2.15,7.35)(2.45,7.55)(2.7,7.25)(3.0,7.6)(3.3,7.25)(3.75,7.6)(2.05,8.0)(2.3,8.25)(2.62,8.05)
(2.95,8.45)(3.55,8.55)(2.15,8.7)(2.5,9.0)(2.8,9.3)(2.1,9.7)(2.4,10.1)(2.05,10.6)(2.3,11.0)(2.6,10.6)
(4.6,4.4)(4.75,5.6)(4.55,6.05)(4.85,2.9)(4.65,1.9)(5.0,3.3)(5.2,1.6)(5.4,3.9)(5.6,2.6)(5.05,5.4)
(4.9,6.3)(5.3,6.7)(5.7,4.9)(6.2,3.4)(6.1,2.4)(6.6,2.1)(5.45,1.85)(4.45,3.75)(4.7,3.2)(4.3,4.6)
};
\legend{down,none,up}
\end{axis}

% ---------------- Panel B: GO dot plot ----------------
\begin{axis}[gopanel, at={(762.4pt,345.0pt)},
 xticklabels={}, xtick style={draw=none},
 yticklabels={neutrophil activation, neutrophil mediated immunity, neutrophil degranulation, neutrophil activation involved in immune response, protein targeting, {nuclear−transcribed mRNA catabolic process, nonsense−mediated decay}, establishment of protein localization to endoplasmic reticulum, protein targeting to ER, cotranslational protein targeting to membrane, SRP−dependent cotranslational protein targeting to membrane}]
\addplot[godots] table[x=GR, y=idx, meta=p] {\tabBP};
\draw[fill=strip85, draw=gray20, line width=0.6pt] (rel axis cs:1,0) rectangle ([xshift=11.7pt]rel axis cs:1,1);
\node[rotate=-90, font=\fontsize{6}{6}\selectfont, text=black!90] at ([xshift=5.85pt]rel axis cs:1,0.5) {BP};
\end{axis}

\begin{axis}[gopanel, at={(762.4pt,223.7pt)},
 xticklabels={}, xtick style={draw=none},
 yticklabels={focal adhesion, cell−substrate adherens junction, cell−substrate junction, mitochondrial matrix, collagen−containing extracellular matrix, secretory granule membrane, ribosomal subunit, ficolin−1−rich granule, cytosolic ribosome, cytosolic large ribosomal subunit}]
\addplot[godots] table[x=GR, y=idx, meta=p] {\tabCC};
\draw[fill=strip85, draw=gray20, line width=0.6pt] (rel axis cs:1,0) rectangle ([xshift=11.7pt]rel axis cs:1,1);
\node[rotate=-90, font=\fontsize{6}{6}\selectfont, text=black!90] at ([xshift=5.85pt]rel axis cs:1,0.5) {CC};
\end{axis}

\begin{axis}[gopanel, at={(762.4pt,101.6pt)},
 xticklabels={0.01,0.02,0.03,0.04,0.05},
 xlabel={GeneRatio},
 xlabel style={font=\fontsize{8.5}{9}\selectfont, text=black, at={([yshift=-16.5pt]axis description cs:0.5,0)}, anchor=center},
 yticklabels={cell adhesion molecule binding, actin binding, cadherin binding, coenzyme binding, ubiquitin−like protein ligase binding, molecular adaptor activity, structural constituent of ribosome, actin filament binding, extracellular matrix structural constituent, growth factor binding}]
\addplot[godots] table[x=GR, y=idx, meta=p] {\tabMF};
\draw[fill=strip85, draw=gray20, line width=0.6pt] (rel axis cs:1,0) rectangle ([xshift=11.7pt]rel axis cs:1,1);
\node[rotate=-90, font=\fontsize{6}{6}\selectfont, text=black!90] at ([xshift=5.85pt]rel axis cs:1,0.5) {MF};
\end{axis}

% p.adjust colour bar
\node[anchor=west, inner sep=0, font=\fontsize{8.3}{9}\selectfont] at (941.25pt,353.0pt) {p.adjust};
\shade[shading=padj] (941.25pt,286.3pt) rectangle (953.25pt,346.0pt);
\foreach \yy in {325.0pt,304.5pt} {
 \draw[white, line width=0.4pt] (941.25pt,\yy) -- ++(2.4pt,0);
 \draw[white, line width=0.4pt] (953.25pt,\yy) -- ++(-2.4pt,0);
}
\node[anchor=west, inner sep=0, font=\fontsize{6.5}{7}\selectfont, text=gray30] at (957pt,325.0pt) {1e−06};
\node[anchor=west, inner sep=0, font=\fontsize{6.5}{7}\selectfont, text=gray30] at (957pt,304.5pt) {2e−06};

% Count legend
\node[anchor=west, inner sep=0, font=\fontsize{8.3}{9}\selectfont] at (941.25pt,266.8pt) {Count};
\begin{axis}[at={(938.75pt,205.5pt)}, anchor=south west, scale only axis, width=20pt, height=60pt,
 xmin=-1, xmax=1, ymin=300, ymax=380, y dir=reverse, hide axis, clip=false]
\addplot[scatter, only marks, mark=*, point meta=explicit,
  scatter/use mapped color={draw=black, fill=black},
  visualization depends on={0.493*sqrt(\thisrow{count}) \as \msz},
  scatter/@pre marker code/.append style={/tikz/mark size=\msz pt}]
  table[x expr=0, y=y, meta=count] {\tabCount};
\node[anchor=west, inner sep=0, font=\fontsize{6.5}{7}\selectfont, text=gray30] at (axis cs:1.17,315.7) {50};
\node[anchor=west, inner sep=0, font=\fontsize{6.5}{7}\selectfont, text=gray30] at (axis cs:1.17,332.3) {100};
\node[anchor=west, inner sep=0, font=\fontsize{6.5}{7}\selectfont, text=gray30] at (axis cs:1.17,349.3) {150};
\node[anchor=west, inner sep=0, font=\fontsize{6.5}{7}\selectfont, text=gray30] at (axis cs:1.17,369.0) {200};
\end{axis}

% caption
\node[anchor=base west, inner sep=0, font=\capfont\fontsize{12.3}{13}\selectfont, text=black!90] at (16.3pt,28.5pt)
 {\textbf{FIGURE 8 |} Enrichment in patients with different risks. \textbf{(A)} A volcano plot of genes in ccRCC patients with low and high risk scores. \textbf{(B)} Functional annotation of the};
\node[anchor=base west, inner sep=0, font=\capfont\fontsize{12.3}{13}\selectfont, text=black!90] at (16.3pt,11.5pt)
 {DEGs based on gene ontology classification.};
\end{tikzpicture}
\end{document}
